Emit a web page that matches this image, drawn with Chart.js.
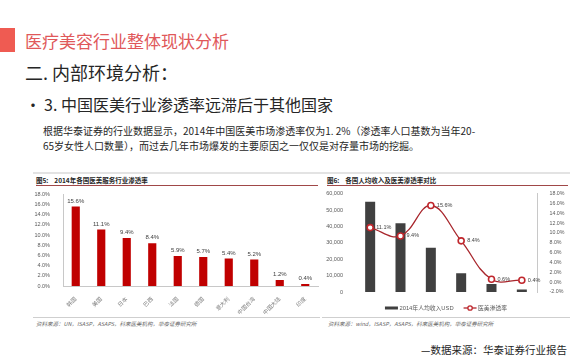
<!DOCTYPE html>
<html><head><meta charset="utf-8">
<script src="https://cdn.jsdelivr.net/npm/chart.js@4.4.1/dist/chart.umd.min.js"></script>
<style>
body{margin:0;width:570px;height:360px;background:#fff;position:relative;overflow:hidden;font-family:"Noto Sans CJK SC",sans-serif;}
.a{position:absolute;white-space:nowrap;}
canvas{position:absolute;}
</style></head><body>
<div class="a" style="left:0;top:28px;width:15px;height:24px;background:#ef5b52"></div>
<div class="a" style="left:25px;top:31px;font-size:17px;line-height:20px;color:#e0585a">医疗美容行业整体现状分析</div>
<div class="a" style="left:25px;top:61px;font-size:18px;line-height:22px;color:#262626">二. 内部环境分析：</div>
<div class="a" style="left:25px;top:94px;font-size:16px;line-height:20px;color:#262626">•</div>
<div class="a" style="left:44px;top:94px;font-size:16px;line-height:20px;color:#262626">3. 中国医美行业渗透率远滞后于其他国家</div>
<div class="a" style="left:43px;top:123px;font-size:10px;line-height:15px;color:#262626">根据华泰证券的行业数据显示，2014年中国医美市场渗透率仅为1. 2%（渗透率人口基数为当年20-<br>65岁女性人口数量），而过去几年市场爆发的主要原因之一仅仅是对存量市场的挖掘。</div>

<div class="a" style="left:33px;top:172px;width:537px;height:2px;background:#e3e3e3"></div>
<div class="a" style="left:36px;top:176px;font-size:6.5px;line-height:9px;font-weight:bold;color:#262626">图5:&nbsp;&nbsp;&nbsp;&nbsp;2014年各国医美服务行业渗透率</div>
<div class="a" style="left:36px;top:185px;width:282px;height:1px;background:#a04848"></div>
<div class="a" style="left:327px;top:176px;font-size:6.5px;line-height:9px;font-weight:bold;color:#262626">图6:&nbsp;&nbsp;&nbsp;&nbsp;各国人均收入及医美渗透率对比</div>
<div class="a" style="left:327px;top:185px;width:241px;height:1px;background:#a04848"></div>

<canvas id="c1" width="292" height="130" style="left:30px;top:186px"></canvas>
<canvas id="c2" width="248" height="130" style="left:322px;top:186px"></canvas>

<div class="a" style="left:33px;top:317px;width:287px;height:1px;background:#cfcfcf"></div>
<div class="a" style="left:322px;top:317px;width:248px;height:1px;background:#cfcfcf"></div>
<div class="a" style="left:36px;top:320px;font-size:5.5px;line-height:8px;font-style:italic;color:#666">资料来源：UN，ISASP，ASAPS，科来医美机构，华泰证券研究所</div>
<div class="a" style="left:328px;top:320px;font-size:5.5px;line-height:8px;font-style:italic;color:#666">资料来源：wind，ISASP，ASAPS，科来医美机构，华泰证券研究所</div>

<div class="a" style="right:3px;top:342px;font-size:10.5px;line-height:15px;color:#262626">—数据来源：华泰证券行业报告</div>

<script>
// ---- data ----
const countries1 = ['韩国','美国','日本','巴西','法国','德国','意大利','中国台湾','中国大陆','印度'];
const penetration1 = [15.6, 11.1, 9.4, 8.4, 5.9, 5.7, 5.4, 5.2, 1.2, 0.4];

const countries2 = ['美国','日本','韩国','巴西','中国','印度'];
const income2 = [55000, 42000, 27000, 11500, 4900, 1600];
const penetration2 = [11.1, 9.4, 15.6, 8.4, 0.6, 0.4];
const legendNames = ['2014年人均收入USD', '医美渗透率'];

Chart.defaults.font.family = '"Liberation Sans","Noto Sans CJK SC",sans-serif';
Chart.defaults.animation = false;

const valueLabels = {
  id: 'valueLabels',
  afterDatasetsDraw(chart) {
    const ctx = chart.ctx;
    chart.data.datasets.forEach((ds, i) => {
      const vl = ds.valueLabels;
      if (!vl) return;
      const meta = chart.getDatasetMeta(i);
      ctx.save();
      ctx.font = vl.font;
      ctx.fillStyle = vl.color;
      meta.data.forEach((el, j) => {
        const txt = ds.data[j].toFixed(1) + '%';
        if (vl.pos === 'top') {
          ctx.textAlign = 'center'; ctx.textBaseline = 'bottom';
          ctx.fillText(txt, el.x, el.y - 2.5);
        } else {
          ctx.textAlign = 'left'; ctx.textBaseline = 'middle';
          ctx.fillText(txt, el.x + 6, el.y);
        }
      });
      ctx.restore();
    });
  }
};

new Chart(document.getElementById('c1'), {
  type: 'bar',
  data: {
    labels: countries1,
    datasets: [{
      data: penetration1,
      backgroundColor: '#c00000',
      barPercentage: 0.32,
      categoryPercentage: 1,
      valueLabels: { pos: 'top', font: '6px "Liberation Sans"', color: '#404040' }
    }]
  },
  options: {
    responsive: false,
    devicePixelRatio: 1,
    layout: { padding: { top: 4.7, right: 4, left: 0, bottom: 0 } },
    plugins: { legend: { display: false }, tooltip: { enabled: false } },
    scales: {
      x: {
        grid: { display: false },
        border: { display: true, color: '#c8c8c8' },
        ticks: { maxRotation: 45, minRotation: 45, font: { size: 5.5 }, color: '#7f7f7f', padding: 2 },
        afterFit(s) { s.height = 30; }
      },
      y: {
        min: 0, max: 18,
        grid: { display: false },
        border: { display: true, color: '#c8c8c8' },
        ticks: { stepSize: 2, font: { size: 5.5 }, color: '#595959', padding: 5,
          callback: v => v.toFixed(1) + '%' },
        afterFit(s) { s.width = 33; }
      }
    }
  },
  plugins: [valueLabels]
});

const legendPlugin = {
  id: 'customLegend',
  afterDraw(chart) {
    const ctx = chart.ctx;
    const ca = chart.chartArea;
    ctx.save();
    ctx.font = '5.8px "Liberation Sans","Noto Sans CJK SC"';
    const sym = 13, gap = 1.5, between = 10;
    const w0 = ctx.measureText(legendNames[0]).width;
    const w1 = ctx.measureText(legendNames[1]).width;
    const total = sym + gap + w0 + between + sym + gap + w1;
    let x = (ca.left + ca.right) / 2 - total / 2;
    const y = ca.bottom + 16;
    // bar symbol
    ctx.fillStyle = '#404040';
    ctx.fillRect(x, y - 1.5, sym, 3);
    x += sym + gap;
    ctx.fillStyle = '#595959';
    ctx.textBaseline = 'middle'; ctx.textAlign = 'left';
    ctx.fillText(legendNames[0], x, y);
    x += w0 + between;
    // line symbol
    ctx.strokeStyle = '#b0282e'; ctx.lineWidth = 1.3;
    ctx.beginPath(); ctx.moveTo(x, y); ctx.lineTo(x + sym, y); ctx.stroke();
    ctx.fillStyle = '#fff'; ctx.strokeStyle = '#c0272d'; ctx.lineWidth = 1.3;
    ctx.beginPath(); ctx.arc(x + sym / 2, y, 2.2, 0, Math.PI * 2); ctx.fill(); ctx.stroke();
    x += sym + gap;
    ctx.fillStyle = '#595959';
    ctx.fillText(legendNames[1], x, y);
    ctx.restore();
  }
};

new Chart(document.getElementById('c2'), {
  type: 'bar',
  data: {
    labels: countries2,
    datasets: [
      {
        type: 'line',
        data: penetration2,
        yAxisID: 'y1',
        order: 0,
        borderColor: '#a8262c',
        borderWidth: 1.3,
        tension: 0.4,
        pointRadius: 3,
        pointBorderWidth: 1.6,
        pointBackgroundColor: '#fff',
        pointBorderColor: '#c0272d',
        valueLabels: { pos: 'right', font: '5.5px "Liberation Sans"', color: '#404040' }
      },
      {
        type: 'bar',
        data: income2,
        yAxisID: 'y',
        order: 1,
        backgroundColor: '#404040',
        barPercentage: 0.33,
        categoryPercentage: 1
      }
    ]
  },
  options: {
    responsive: false,
    devicePixelRatio: 1,
    layout: { padding: { top: 4, right: 0, left: 0, bottom: 14 } },
    plugins: { legend: { display: false }, tooltip: { enabled: false } },
    scales: {
      x: {
        grid: { display: false },
        border: { display: false },
        ticks: { font: { size: 5.2 }, color: '#7f7f7f', padding: 3, maxRotation: 0 },
        afterFit(s) { s.height = 10; }
      },
      y: {
        position: 'left',
        min: 0, max: 60000,
        grid: { display: false },
        border: { display: false },
        ticks: { stepSize: 10000, font: { size: 5.5 }, color: '#595959', padding: 4,
          callback: v => v.toLocaleString('en-US') },
        afterFit(s) { s.width = 33; }
      },
      y1: {
        position: 'right',
        min: -2, max: 18,
        grid: { display: false },
        border: { display: true, color: '#c8c8c8' },
        ticks: { stepSize: 2, font: { size: 5.3 }, color: '#595959', padding: 4.5,
          callback: v => v.toFixed(1) + '%' },
        afterFit(s) { s.width = 33; }
      }
    }
  },
  plugins: [valueLabels, legendPlugin]
});
</script>
</body></html>
